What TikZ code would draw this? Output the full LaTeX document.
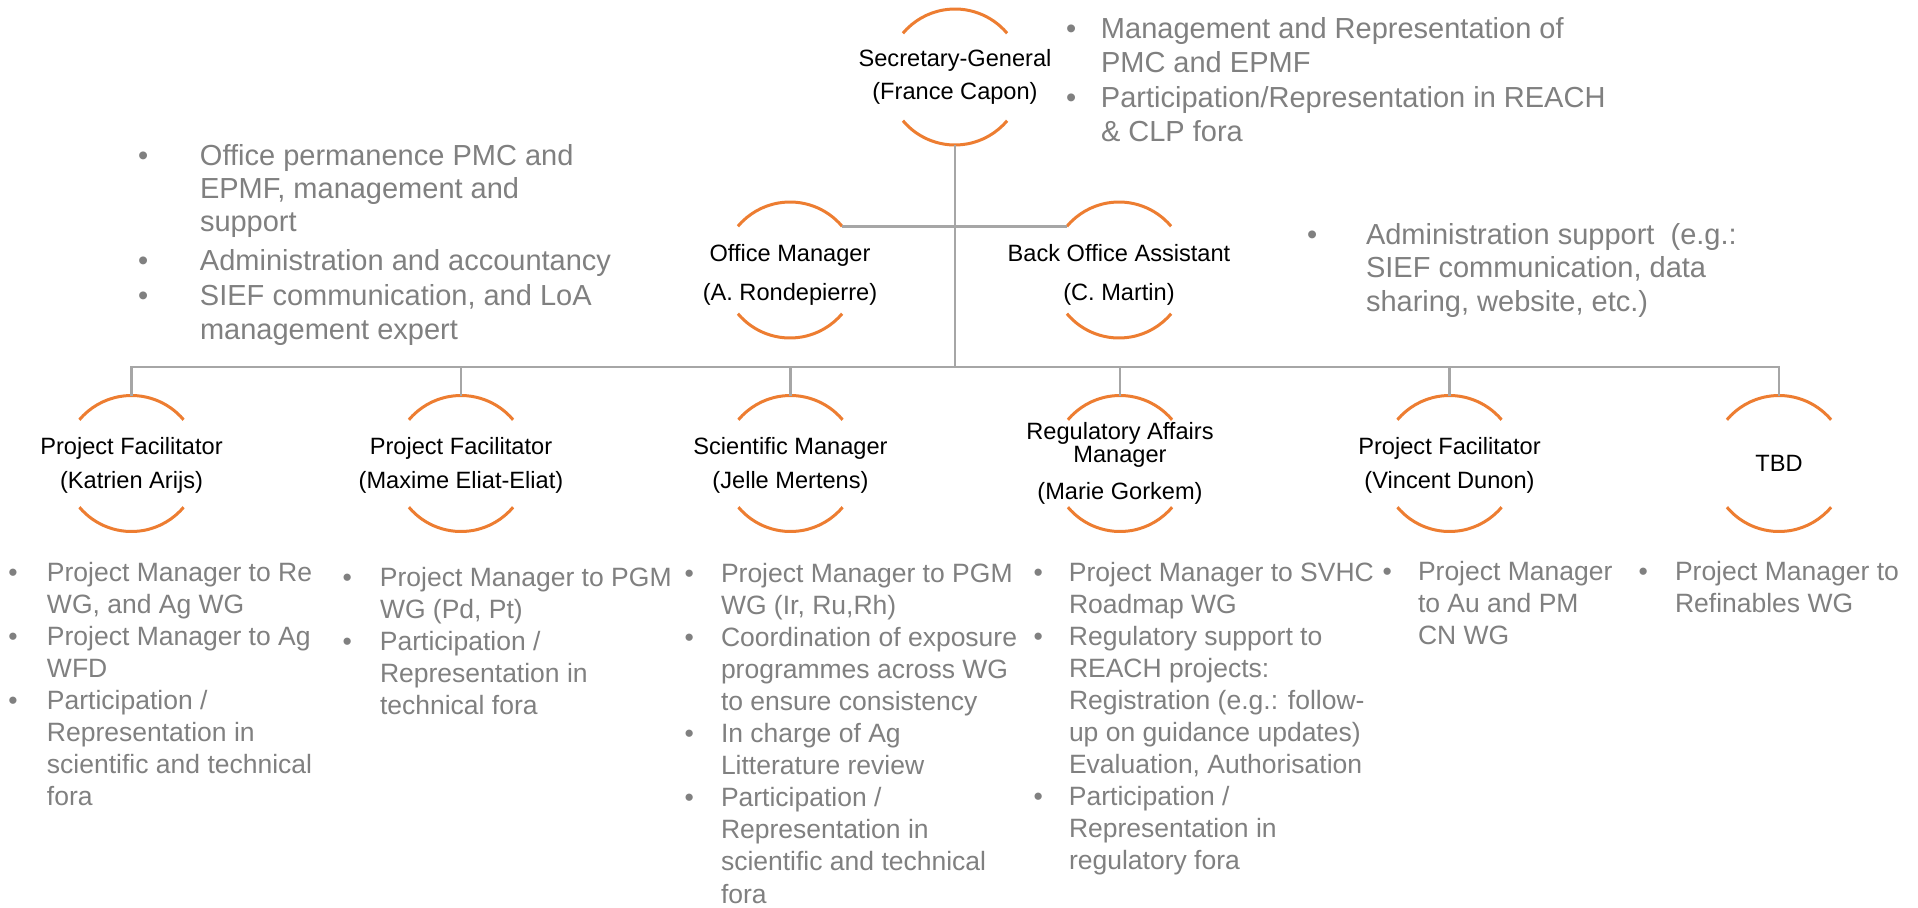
\documentclass[tikz,border=0pt]{standalone}
\usepackage{fontspec}
\setmainfont{Liberation Sans}
\definecolor{orng}{HTML}{ED7D31}
\definecolor{linegray}{HTML}{A6A6A6}
\definecolor{txtgray}{HTML}{808080}
\newcommand\rolefont{\fontsize{23.6}{33.5}\selectfont}
\newcommand\botfont{\fontsize{26.5}{32.1}\selectfont}
\newcommand\bu[1]{\makebox[#1][l]{•}}
\newcommand\rolearcs[1]{%
  \draw[arcline] (#1.40) arc[start angle=40,end angle=140,radius=68];
  \draw[arcline] (#1.220) arc[start angle=220,end angle=320,radius=68];}
\begin{document}
\begin{tikzpicture}[x=1pt,y=1pt,
  role/.style={circle,minimum size=136pt,inner sep=0pt,outer sep=0pt},
  rolelabel/.style={align=center,font=\rolefont,text=black,inner sep=0pt},
  arcline/.style={draw=orng,line width=3pt},
  conn/.style={draw=linegray,line width=2.8pt},
  blist/.style={anchor=base west,inner sep=0pt,outer sep=0pt,text=txtgray}]
\fill[white] (0,0) rectangle (1918,-907);
\useasboundingbox (0,0) rectangle (1918,-907);

% role nodes
\node[role,label={[rolelabel]center:{Secretary-General\\(France Capon)}}] (sg) at (955,-77) {};
\node[role,label={[rolelabel,yshift=-5pt]center:{Office Manager\\[6pt](A. Rondepierre)}}] (om) at (790,-270) {};
\node[role,label={[rolelabel,yshift=-5pt]center:{Back Office Assistant\\[6pt](C. Martin)}}] (boa) at (1119,-270) {};
\node[role,label={[rolelabel,yshift=-2pt]center:{Project Facilitator\\(Katrien Arijs)}}] (p1) at (131.5,-463.5) {};
\node[role,label={[rolelabel,yshift=-2pt]center:{Project Facilitator\\(Maxime Eliat-Eliat)}}] (p2) at (461,-463.5) {};
\node[role,label={[rolelabel,yshift=-2pt]center:{Scientific Manager\\(Jelle Mertens)}}] (p3) at (790.5,-463.5) {};
\node[role,label={[rolelabel,font=\fontsize{23.6}{23}\selectfont]center:{Regulatory Affairs\\Manager\\[14pt](Marie Gorkem)}}] (p4) at (1120,-463.5) {};
\node[role,label={[rolelabel,yshift=-2pt]center:{Project Facilitator\\(Vincent Dunon)}}] (p5) at (1449.5,-463.5) {};
\node[role,label={[rolelabel]center:{TBD}}] (p6) at (1779,-463.5) {};

\foreach \n in {sg,om,boa,p1,p2,p3,p4,p5,p6}{\rolearcs{\n}}

% connectors
\coordinate (bar) at (0,-367);
\draw[conn] (sg.south) -- (sg.south |- bar);
\draw[conn] (om.40) -- (boa.140);
\draw[conn] (p1.north) -- (p1.north |- bar) -- (p6.north |- bar) -- (p6.north);
\foreach \n in {p2,p3,p4,p5}{\draw[conn] (\n.north) -- (\n.north |- bar);}

% upper bullet blocks
\node[blist,font=\fontsize{29}{34}\selectfont] (tsg) at (1066,-38) {\begin{tabular}[t]{@{}l@{}l@{}}
\bu{35pt}&Management and Representation of\\
&PMC and EPMF\\[2pt]
\bu{35pt}&Participation/Representation in REACH\\
&\& CLP fora
\end{tabular}};
\node[blist,font=\fontsize{29}{33.3}\selectfont] (tom) at (138,-165) {\begin{tabular}[t]{@{}l@{}l@{}}
\bu{62pt}&Office permanence PMC and\\
&EPMF, management and\\
&support\\[6pt]
\bu{62pt}&Administration and accountancy\\[1.5pt]
\bu{62pt}&SIEF communication, and LoA\\
&management expert
\end{tabular}};
\node[blist,font=\fontsize{29}{33.5}\selectfont] (tboa) at (1307,-244) {\begin{tabular}[t]{@{}l@{}l@{}}
\bu{59pt}&Administration support\ \ (e.g.:\\
&SIEF communication, data\\
&sharing, website, etc.)
\end{tabular}};

% lower bullet blocks
\node[blist,font=\botfont] (b1) at (8.5,-581) {\begin{tabular}[t]{@{}l@{}l@{}}
\bu{38.5pt}&Project Manager to Re\\
&WG, and Ag WG\\
\bu{38.5pt}&Project Manager to Ag\\
&WFD\\
\bu{38.5pt}&Participation /\\
&Representation in\\
&scientific and technical\\
&fora
\end{tabular}};
\node[blist,font=\botfont] (b2) at (342.5,-586) {\begin{tabular}[t]{@{}l@{}l@{}}
\bu{37.5pt}&Project Manager to PGM\\
&WG (Pd, Pt)\\
\bu{37.5pt}&Participation /\\
&Representation in\\
&technical fora
\end{tabular}};
\node[blist,font=\botfont] (b3) at (684.5,-582) {\begin{tabular}[t]{@{}l@{}l@{}}
\bu{36.5pt}&Project Manager to PGM\\
&WG (Ir, Ru,Rh)\\
\bu{36.5pt}&Coordination of exposure\\
&programmes across WG\\
&to ensure consistency\\
\bu{36.5pt}&In charge of Ag\\
&Litterature review\\
\bu{36.5pt}&Participation /\\
&Representation in\\
&scientific and technical\\
&fora
\end{tabular}};
\node[blist,font=\botfont] (b4) at (1033.5,-581) {\begin{tabular}[t]{@{}l@{}l@{}}
\bu{35.5pt}&Project Manager to SVHC\\
&Roadmap WG\\
\bu{35.5pt}&Regulatory support to\\
&REACH projects:\\
&Registration (e.g.: follow-\\
&up on guidance updates)\\
&Evaluation, Authorisation\\
\bu{35.5pt}&Participation /\\
&Representation in\\
&regulatory fora
\end{tabular}};
\node[blist,font=\botfont] (b5) at (1382.5,-580) {\begin{tabular}[t]{@{}l@{}l@{}}
\bu{35.5pt}&Project Manager\\
&to Au and PM\\
&CN WG
\end{tabular}};
\node[blist,font=\botfont] (b6) at (1638.5,-580) {\begin{tabular}[t]{@{}l@{}l@{}}
\bu{36.5pt}&Project Manager to\\
&Refinables WG
\end{tabular}};
\end{tikzpicture}
\end{document}
